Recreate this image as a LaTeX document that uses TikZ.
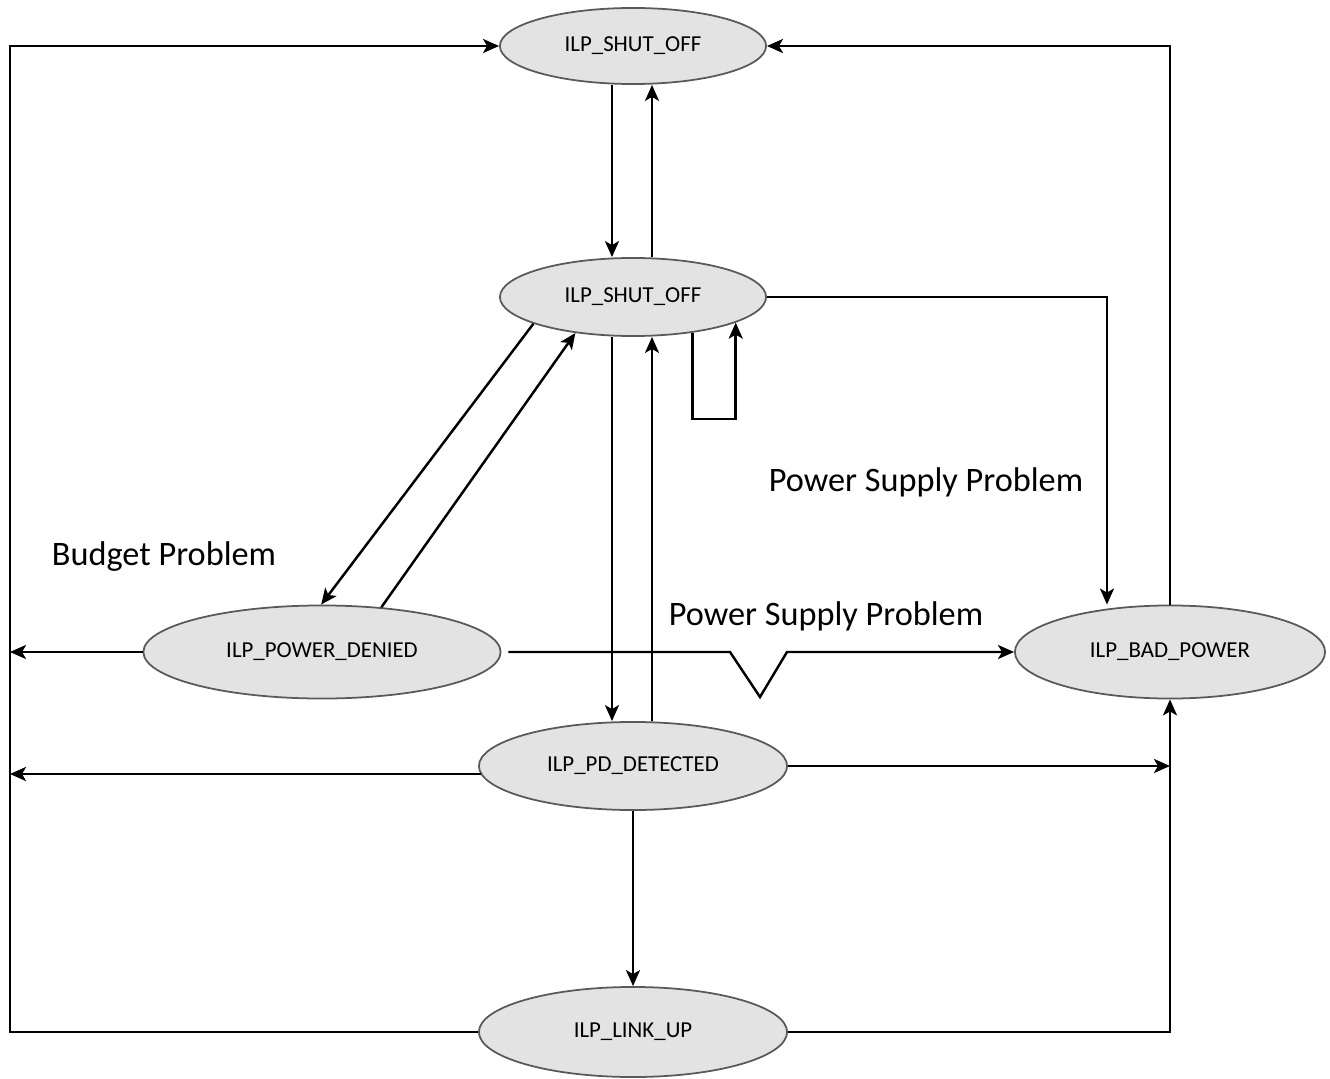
\documentclass[tikz,border=0pt]{standalone}
\usepackage{fontspec}
\setmainfont{Carlito}
\usetikzlibrary{shapes.geometric,arrows.meta}

\tikzset{
	state/.style = {ellipse, draw = black!65, fill = black!11, line width = 0.5pt, inner sep = 0pt, font = \fontsize{6.5}{8}\selectfont},
	note/.style = {anchor = base, font = \fontsize{9.75}{12}\selectfont},
}

\begin{document}
\begin{tikzpicture}[x = 0.01cm, y = -0.01cm, >={Stealth[length=1.6mm, width=1.4mm, inset=0.4mm]}, semithick/.style = {line width = 0.7pt}]
		\useasboundingbox (0,0) rectangle (1330,1079);
		\node [state, minimum width = 2.66cm, minimum height = 0.76cm] (shut) at (633, 46) {ILP\_SHUT\_OFF};
		\node [state, minimum width = 2.66cm, minimum height = 0.78cm] (mid) at (633, 297) {ILP\_SHUT\_OFF};
		\node [state, minimum width = 3.57cm, minimum height = 0.93cm] (denied) at (322, 652) {ILP\_POWER\_DENIED};
		\node [state, minimum width = 3.10cm, minimum height = 0.93cm] (bad) at (1170, 652) {ILP\_BAD\_POWER};
		\node [state, minimum width = 3.08cm, minimum height = 0.88cm] (det) at (633, 766) {ILP\_PD\_DETECTED};
		\node [state, minimum width = 3.08cm, minimum height = 0.90cm] (link) at (633, 1032) {ILP\_LINK\_UP};
		\coordinate (lft) at (10, 46);
		
		\draw [->, semithick] ([xshift=-0.21cm]shut.south) -- ([xshift=-0.21cm]mid.north);
		\draw [->, semithick] ([xshift=0.19cm]mid.north) -- ([xshift=0.19cm]shut.south);
		\draw [->, semithick] ([xshift=-0.21cm]mid.south) -- ([xshift=-0.21cm]det.north);
		\draw [->, semithick] ([xshift=0.19cm]det.north) -- ([xshift=0.19cm]mid.south);
		\draw [->, semithick] (mid.-31.5) -- ++(0, 86) -| (mid.-14.4);
		\draw [->, semithick] (mid.195) -- (denied.91);
		\draw [->, semithick] (denied.37) -- (mid.-148);
		\draw [->, semithick] (mid.east) -| ([xshift=-0.63cm]bad.north);
		\draw [->, semithick] (bad.north) |- (shut.east);
		\draw [->, semithick] (link.west) -| (lft) -- (shut.west);
		\draw [->, semithick] (denied.west) -- (denied.west -| lft);
		\draw [->, semithick] (det.183) -- (det.183 -| lft);
		\draw [->, semithick] ([xshift=0.07cm]denied.east) -- (730, 652) -- (760, 697) -- (787, 652) -- (bad.west);
		\draw [->, semithick] (det.east) -- (det.east -| bad.south);
		\draw [->, semithick] (link.east) -| (bad.south);
		\draw [->, semithick] (det.south) -- (link.north);
		
		\node [note] (budget) at (164, 565) {Budget Problem};
		\node [note] (supply) at (926, 491) {Power Supply Problem};
		\node [note] (supplylow) at (826, 625) {Power Supply Problem};
\end{tikzpicture}
\end{document}
